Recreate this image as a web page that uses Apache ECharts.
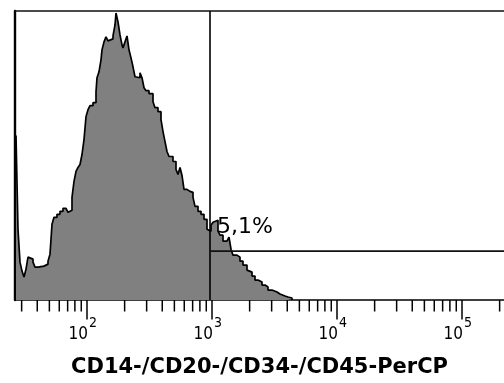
<!DOCTYPE html>
<html>
<head>
<meta charset="utf-8">
<script src="https://cdn.jsdelivr.net/npm/echarts@6/dist/echarts.min.js"></script>
<style>
html,body{margin:0;padding:0;background:#fff;}
#chart{width:504px;height:383px;}
</style>
</head>
<body>
<div id="chart"></div>
<script>
// Histogram bin starts (log10 of fluorescence intensity) and event counts
const binLog10 = [1.432,1.448,1.464,1.480,1.496,1.512,1.528,1.544,1.568,1.584,
  1.608,1.656,1.688,1.704,1.720,1.736,1.760,1.784,1.808,1.832,
  1.848,1.864,1.880,1.896,1.912,1.928,1.944,1.960,1.976,1.992,
  2.008,2.024,2.048,2.072,2.080,2.096,2.112,2.120,2.136,2.152,
  2.168,2.184,2.208,2.224,2.232,2.248,2.264,2.280,2.288,2.304,
  2.320,2.336,2.352,2.368,2.384,2.400,2.424,2.440,2.456,2.472,
  2.496,2.528,2.544,2.568,2.592,2.608,2.624,2.640,2.656,2.688,
  2.712,2.728,2.744,2.760,2.776,2.800,2.824,2.848,2.864,2.888,
  2.912,2.936,2.960,2.976,2.992,3.008,3.024,3.048,3.064,3.088,
  3.120,3.136,3.152,3.168,3.200,3.224,3.248,3.280,3.296,3.320,
  3.344,3.368,3.400,3.424,3.448,3.480,3.520,3.544,3.584,3.608,
  3.640];
const counts = [165,71,38,29,23,31,43,41,38,33,
  34,36,39,46,76,83,86,89,92,93,
  88,90,103,119,129,133,136,146,161,184,
  191,195,198,209,223,229,241,251,259,264,
  260,262,265,276,288,279,266,256,253,259,
  265,251,243,234,224,223,228,223,213,210,
  207,199,193,189,181,169,159,149,144,139,
  131,126,133,125,111,109,108,103,94,89,
  86,81,71,69,75,78,80,69,65,59,
  61,63,51,45,43,39,35,30,28,24,
  20,18,15,13,10,8,6,4,3,2,
  0];

// Axis range (log10 units) and count range
const xMinLog = 1.424;
const xMaxLog = 5.336;
const yMaxCount = 290;

// Axis ticks (intensity values)
const majorTicks = [100, 1000, 10000, 100000];
const minorTicks = [30,40,50,60,70,80,90,
  200,300,400,500,600,700,800,900,
  2000,3000,4000,5000,6000,7000,8000,9000,
  20000,30000,40000,50000,60000,70000,80000,90000,
  200000];
const tickBase = ['10','10','10','10'];
const tickExp = ['2','3','4','5'];

// Gate
const gateLog = 2.984;
const gateCount = 49;
const gateLabel = '5,1%';
const gateLabelCount = 73;

const axisTitle = 'CD14-/CD20-/CD34-/CD45-PerCP';

const chart = echarts.init(document.getElementById('chart'), null, {renderer:'canvas'});

const tickData = majorTicks.map(v => [Math.log10(v), 1])
  .concat(minorTicks.map(v => [Math.log10(v), 0]));
const labelData = majorTicks.map((v, i) => [Math.log10(v), 0, tickBase[i], tickExp[i]]);

const narrowFont = "'Liberation Sans Narrow', 'DejaVu Sans Condensed', 'Liberation Sans', sans-serif";

chart.setOption({
  animation: false,
  backgroundColor: '#fff',
  grid: {left: 15, right: 0, top: 11, bottom: 82.5, show: false},
  xAxis: [{
    type: 'value', min: xMinLog, max: xMaxLog, position: 'bottom',
    axisLine: {show: true, onZero: false, lineStyle: {color: '#000', width: 1.5}},
    axisTick: {show: false}, axisLabel: {show: false}, splitLine: {show: false},
    name: axisTitle, nameLocation: 'middle', nameGap: 57,
    nameTextStyle: {fontFamily: 'DejaVu Sans', fontWeight: 'bold', fontSize: 21, color: '#000'}
  }, {
    type: 'value', min: xMinLog, max: xMaxLog, position: 'top',
    axisLine: {show: true, onZero: false, lineStyle: {color: '#111', width: 1.6}},
    axisTick: {show: false}, axisLabel: {show: false}, splitLine: {show: false}
  }],
  yAxis: {
    type: 'value', min: 0, max: yMaxCount,
    axisLine: {show: true, lineStyle: {color: '#000', width: 2.4}},
    axisTick: {show: false}, axisLabel: {show: false}, splitLine: {show: false}
  },
  series: [{
    type: 'line',
    step: 'end',
    symbol: 'none',
    data: binLog10.map((v, i) => [v, counts[i]]),
    lineStyle: {color: '#000', width: 1.7},
    areaStyle: {color: '#808080', opacity: 1},
    z: 2
  }, {
    type: 'line', symbol: 'none',
    data: [[gateLog, 0], [gateLog, yMaxCount]],
    lineStyle: {color: '#000', width: 1.6}, z: 3
  }, {
    type: 'line', symbol: 'none',
    data: [[gateLog, gateCount], [xMaxLog, gateCount]],
    lineStyle: {color: '#111', width: 1.6}, z: 3
  }, {
    type: 'custom', clip: false, z: 4,
    data: [[gateLog, gateLabelCount]],
    renderItem: function (params, api) {
      const p = api.coord([api.value(0), api.value(1)]);
      return {type: 'text', x: p[0] + 7, y: p[1],
        style: {text: gateLabel, fill: '#000', fontFamily: 'DejaVu Sans', fontSize: 22,
          align: 'left', verticalAlign: 'middle'}};
    }
  }, {
    type: 'custom', clip: false, z: 4,
    data: tickData,
    renderItem: function (params, api) {
      const p = api.coord([api.value(0), 0]);
      const len = api.value(1) ? 19.5 : 11.5;
      return {type: 'line',
        shape: {x1: p[0], y1: p[1], x2: p[0], y2: p[1] + len},
        style: {stroke: '#000', lineWidth: 1.5}};
    }
  }, {
    type: 'custom', clip: false, z: 4,
    data: labelData,
    renderItem: function (params, api) {
      const p = api.coord([api.value(0), 0]);
      const i = params.dataIndex;
      return {type: 'group', children: [
        {type: 'text', x: p[0] + 1, y: p[1] + 35,
          style: {text: tickBase[i], fill: '#000', fontFamily: narrowFont, fontSize: 17,
            align: 'right', verticalAlign: 'middle'}},
        {type: 'text', x: p[0] + 2, y: p[1] + 23.5,
          style: {text: tickExp[i], fill: '#000', fontFamily: narrowFont, fontSize: 14,
            align: 'left', verticalAlign: 'middle'}}
      ]};
    }
  }]
});
</script>
</body>
</html>
